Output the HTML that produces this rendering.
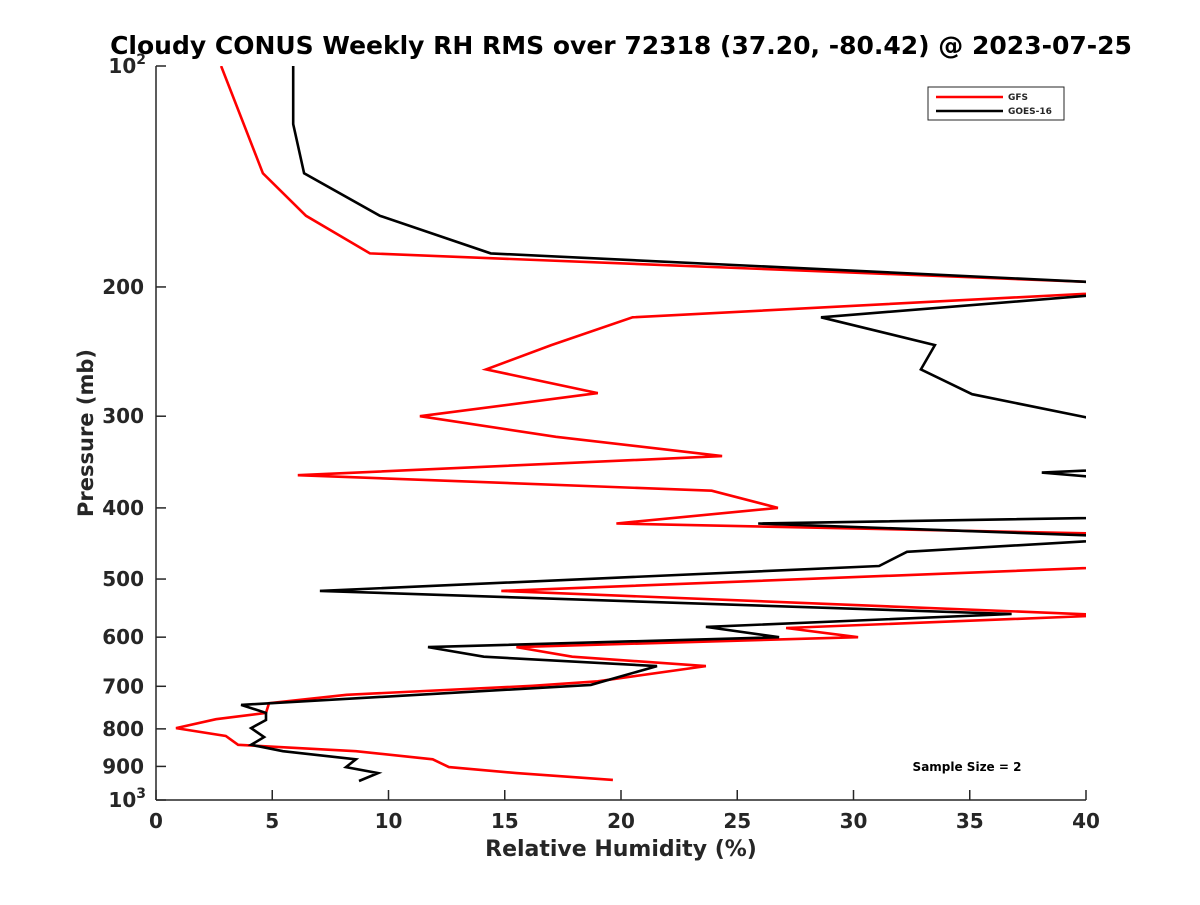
<!DOCTYPE html>
<html><head><meta charset="utf-8"><style>
body{margin:0;background:#fff;}
svg text{font-family:"DejaVu Sans","Liberation Sans",sans-serif;font-weight:bold;fill:#262626;}
</style></head><body>
<svg id="chart" width="1200" height="900" xmlns="http://www.w3.org/2000/svg">
<rect width="1200" height="900" fill="#fff"/>
<text x="621" y="54" text-anchor="middle" font-size="25" style="fill:#000">Cloudy CONUS Weekly RH RMS over 72318 (37.20, -80.42) @ 2023-07-25</text>
<defs><clipPath id="plotclip"><rect x="156" y="66" width="930" height="734"/></clipPath></defs>
<g id="axes"></g>
<g id="series" clip-path="url(#plotclip)"></g>
<g>
<rect x="928" y="87" width="136" height="33" fill="#fff" stroke="#262626" stroke-width="1"/>
<line x1="936" y1="97" x2="1003" y2="97" stroke="#f00" stroke-width="2.5"/>
<text x="1008" y="100" font-size="9">GFS</text>
<line x1="936" y1="111" x2="1003" y2="111" stroke="#000" stroke-width="2.5"/>
<text x="1008" y="114" font-size="9">GOES-16</text>
</g>
<text x="967" y="771" text-anchor="middle" font-size="12" style="fill:#000">Sample Size = 2</text>
<text x="621" y="856" text-anchor="middle" font-size="22">Relative Humidity (%)</text>
<text transform="translate(93,433) rotate(-90)" text-anchor="middle" font-size="21">Pressure (mb)</text>
</svg>
<script>
const xTicks = [0,5,10,15,20,25,30,35,40];
const yTicks = [100,200,300,400,500,600,700,800,900,1000];
const yTickLabels = ["10^2","200","300","400","500","600","700","800","900","10^3"];
const gfsRH = [2.8,4.6,6.45,9.2,45.6,20.5,17.0,14.2,19.0,11.35,17.2,24.35,6.1,23.9,26.75,19.8,64.9,14.85,41,27.1,30.2,15.5,17.9,23.65,19.0,16.2,8.2,4.86,4.73,2.58,0.86,3.0,3.53,8.6,11.9,12.6,15.5,19.65];
const gfsP = [100,140,160,180,200,220,240,259,279,300,320,340,361,379,400,420,450,519,560,583,600,619,638,657,689,699,719,738,761,776,798,818,841,858,880,902,919,939];
const goesRH = [5.9,5.9,6.37,9.63,14.4,44.7,28.6,33.5,32.9,35.1,49.2,38.1,57.8,25.9,42.7,32.3,31.1,7.05,36.8,23.65,26.8,11.7,14.1,21.55,18.7,3.66,4.73,4.73,4.09,4.65,4.09,5.46,8.6,8.17,9.55,8.73];
const goesP = [100,120,140,160,180,200,220,240,259,280,345,358,404,420,439,459,480,519,558,581,600,619,638,657,697,742,761,778,798,821,841,858,880,902,919,942];

const X0=156,X1=1086,Y0=66,Y1=800;
function xs(v){return X0+(v-0)/(40-0)*(X1-X0);}
function ys(p){return Y0+(Math.log10(p)-2)*(Y1-Y0);}
const NS="http://www.w3.org/2000/svg";
const axes=document.getElementById('axes');
function mk(tag,attrs,parent){const e=document.createElementNS(NS,tag);for(const k in attrs)e.setAttribute(k,attrs[k]);parent.appendChild(e);return e;}
const xaxis=mk('line',{x1:X0,y1:Y1,x2:X1,y2:Y1,stroke:'#262626','stroke-width':1.5},axes);


const yaxis=mk('line',{x1:X0,y1:Y0,x2:X0,y2:Y1,stroke:'#262626','stroke-width':1.5},axes);


xTicks.forEach(t=>{
  const x=xs(t);
  mk('line',{x1:x,y1:Y1,x2:x,y2:Y1-10,stroke:'#262626','stroke-width':1.5},axes);
  const tx=mk('text',{x:x,y:Y1+28,'text-anchor':'middle','font-size':20},axes);
  tx.textContent=t;
  
  
});
yTicks.forEach((t,i)=>{
  const y=ys(t);
  mk('line',{x1:X0,y1:y,x2:X0+10,y2:y,stroke:'#262626','stroke-width':1.5},axes);
  const lab=yTickLabels[i];
  const tx=mk('text',{x:X0-12,y:y+7,'text-anchor':'end','font-size':20},axes);
  
  
  if(lab.indexOf('^')>0){
    const parts=lab.split('^');
    const a=document.createElementNS(NS,'tspan');a.textContent=parts[0];tx.appendChild(a);
    const b=document.createElementNS(NS,'tspan');b.textContent=parts[1];b.setAttribute('dy','-9');b.setAttribute('font-size','14');tx.appendChild(b);
    tx.setAttribute('x',X0-10);
  } else tx.textContent=lab;
});
const series=document.getElementById('series');
function drawLine(rh,p,color,name){
  const pts=rh.map((v,i)=>xs(v).toFixed(1)+','+ys(p[i]).toFixed(1)).join(' ');
  const pl=mk('polyline',{points:pts,fill:'none',stroke:color,'stroke-width':2.6,'stroke-linejoin':'miter'},series);
  
  
}
drawLine(gfsRH,gfsP,'#ff0000','gfs-line');
drawLine(goesRH,goesP,'#000000','goes16-line');
</script>
</body></html>
